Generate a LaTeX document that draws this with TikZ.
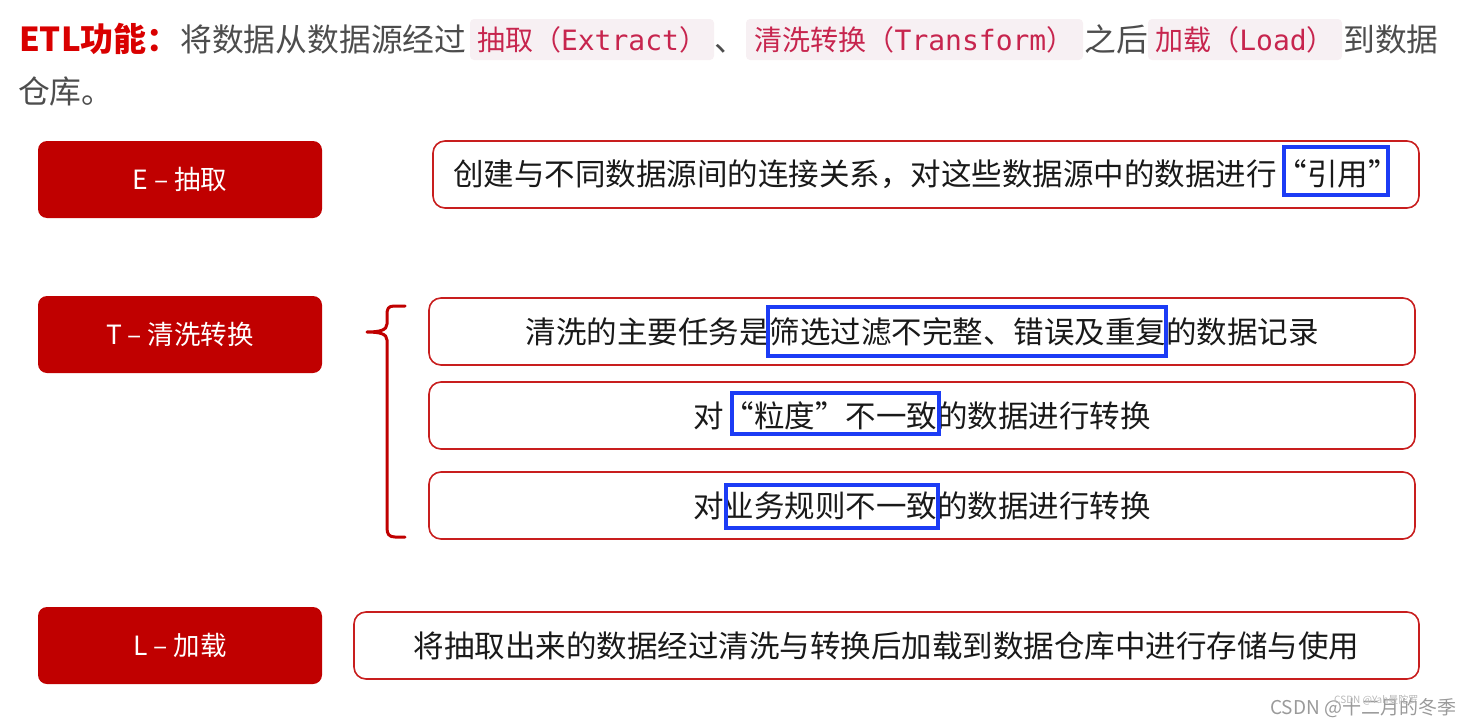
\documentclass[tikz,border=0pt]{standalone}
\usepackage{fontspec}
\setmainfont{Noto Sans CJK SC}
\newfontfamily\mono{DejaVu Sans Mono}
\definecolor{boxred}{HTML}{C00000}
\definecolor{linered}{HTML}{C81E1E}
\definecolor{titlered}{HTML}{D90000}
\definecolor{graytext}{HTML}{4D4D4D}
\definecolor{chipbg}{HTML}{F7F0F3}
\definecolor{chiptext}{HTML}{C7254E}
\definecolor{markblue}{HTML}{1C3CF5}
\definecolor{wmgray}{HTML}{9A9A9A}
\tikzset{
  headtxt/.style={anchor=base west, inner sep=0pt, text=graytext, font=\fontsize{31.8}{36}\selectfont},
  chip/.style={fill=chipbg, rounded corners=4pt, minimum height=41pt, inner sep=0pt, text=chiptext, font=\fontsize{28}{34}\selectfont},
  stagebox/.style={fill=boxred, rounded corners=9pt, minimum width=284pt, minimum height=77pt, inner sep=0pt, text=white, font=\fontsize{26.5}{32}\selectfont},
  descbox/.style={draw=linered, line width=1.6pt, rounded corners=12pt, minimum height=67pt, inner sep=0pt, text=black!90, font=\fontsize{30.5}{36}\selectfont},
  bluemark/.style={draw=markblue, line width=3.4pt},
  bracel/.style={draw=boxred, line width=3pt, line cap=round, line join=round}
}
\begin{document}
\begin{tikzpicture}[x=1pt,y=-1pt]
\useasboundingbox (0,0) rectangle (1476,728);
% header
\node[headtxt, text=titlered, font=\fontsize{33}{38}\selectfont\bfseries] (h0) at (19,51) {ETL功能：};
\node[headtxt] (h1) at (180,51) {将数据从数据源经过};
\node[chip, minimum width=244pt] (c1) at (592,39.5) {抽取（{\mono Extract}）};
\node[headtxt] (h2) at (714,51) {、};
\node[chip, minimum width=337pt] (c2) at (914.5,39.5) {清洗转换（{\mono Transform}）};
\node[headtxt] (h3) at (1084,51) {之后};
\node[chip, minimum width=194pt] (c3) at (1245,39.5) {加载（{\mono Load}）};
\node[headtxt] (h4) at (1343,51) {到数据};
\node[headtxt] (h5) at (18,103) {仓库。};
% stage boxes
\node[stagebox] (E) at (180,179.5) {E – 抽取};
\node[stagebox] (T) at (180,334.5) {T – 清洗转换};
\node[stagebox] (L) at (180,645.5) {L – 加载};
% description boxes
\node[descbox, minimum width=986pt] (Ed) at (926,174.5) {创建与不同数据源间的连接关系，对这些数据源中的数据进行“引用”};
\node[descbox, minimum width=986pt] (T1) at (922,331.5) {清洗的主要任务是筛选过滤不完整、错误及重复的数据记录};
\node[descbox, minimum width=986pt] (T2) at (922,415.5) {对“粒度”不一致的数据进行转换};
\node[descbox, minimum width=986pt] (T3) at (922,505.5) {对业务规则不一致的数据进行转换};
\node[descbox, minimum width=1065pt] (Ld) at (886.5,645.5) {将抽取出来的数据经过清洗与转换后加载到数据仓库中进行存储与使用};
% brace
\draw[bracel] (405,306) -- (394,306) .. controls (388,306) and (387,309) .. (387,315)
  -- (387,324) .. controls (387,330) and (380,332) .. (367,332)
  .. controls (380,332) and (387,334) .. (387,340)
  -- (387,528) .. controls (387,534) and (389,537) .. (395,537) -- (405,537);
% blue highlight marks
\draw[bluemark] (1284,147) rectangle (1388,195);
\draw[bluemark] (768,307) rectangle (1166,356);
\draw[bluemark] (732,393) rectangle (939,434);
\draw[bluemark] (726,485) rectangle (938,528);
% watermark
\node[anchor=west, inner sep=0pt, text=wmgray, font=\fontsize{19}{22}\selectfont] (wm) at (1270,708) {CSDN @十二月的冬季};
\node[anchor=west, inner sep=0pt, text=wmgray!70, font=\fontsize{10}{12}\selectfont] (wm2) at (1334,700) {CSDN @Yah曼陀罗};
\end{tikzpicture}
\end{document}
